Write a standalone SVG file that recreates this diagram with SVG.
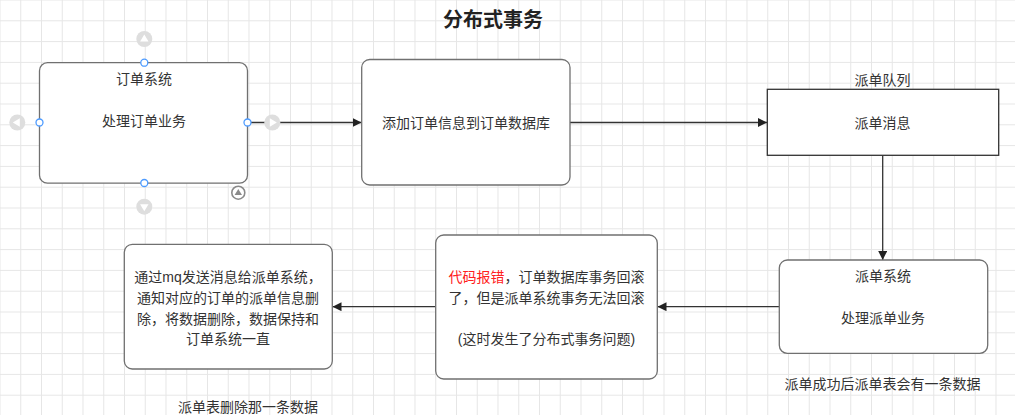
<svg xmlns="http://www.w3.org/2000/svg" width="1015" height="415" viewBox="0 0 1015 415">
<style>
.t{font-family:"Liberation Sans","Noto Sans CJK SC",sans-serif;font-size:14px;fill:#333;text-anchor:middle;dominant-baseline:central}
.box{fill:#fff;stroke:#707070;stroke-width:1.3}
.sq{fill:#fff;stroke:#333;stroke-width:1.3}
.edge{fill:none;stroke:#333;stroke-width:1.3}
.hdl{fill:#fff;stroke:#4d9bff;stroke-width:1.3}
.gc{fill:#dedede}
.gt{fill:#fff}
</style>
<defs>
<pattern id="grid" patternUnits="userSpaceOnUse" x="-0.5" y="-0.5" width="20.75" height="20.8">
<rect x="0" y="0" width="1" height="20.8" fill="#e6e6e6"/>
<rect x="0" y="0" width="20.75" height="1" fill="#e6e6e6"/>
</pattern>
<marker id="arr" viewBox="0 0 10 10" refX="10" refY="5" markerWidth="9" markerHeight="9" markerUnits="userSpaceOnUse" orient="auto">
<path d="M0,0 L10,5 L0,10 Z" fill="#222"/>
</marker>
</defs>
<rect width="1015" height="415" fill="#fff"/>
<rect width="1015" height="415" fill="url(#grid)"/>

<text x="493" y="20" class="t" style="font-size:20px;font-weight:bold;fill:#222">分布式事务</text>

<g id="connectors">
<path class="edge" d="M248,122.5 H361.5" marker-end="url(#arr)"/>
<path class="edge" d="M570,122.5 H767" marker-end="url(#arr)"/>
<path class="edge" d="M882.7,155.5 V260" marker-end="url(#arr)"/>
<path class="edge" d="M779.3,306.7 H657.5" marker-end="url(#arr)"/>
<path class="edge" d="M435.7,306.7 H332.5" marker-end="url(#arr)"/>
</g>

<g id="order-system">
<rect class="box" x="39.5" y="62.7" width="208" height="120.5" rx="8"/>
<text class="t" x="144" y="79">订单系统</text>
<text class="t" x="144" y="120.5">处理订单业务</text>
</g>

<g id="add-order-db">
<rect class="box" x="361.7" y="59.5" width="208.3" height="125.5" rx="8"/>
<text class="t" x="466" y="123">添加订单信息到订单数据库</text>
</g>

<g id="dispatch-queue">
<rect class="sq" x="767.3" y="89.3" width="231.4" height="66"/>
<text class="t" x="882.5" y="80">派单队列</text>
<text class="t" x="882.5" y="123">派单消息</text>
</g>

<g id="dispatch-system">
<rect class="box" x="779.3" y="260" width="208.4" height="93.3" rx="8"/>
<text class="t" x="883" y="276">派单系统</text>
<text class="t" x="883" y="318">处理派单业务</text>
<text class="t" x="882.5" y="384">派单成功后派单表会有一条数据</text>
</g>

<g id="rollback">
<rect class="box" x="435.7" y="235" width="221.6" height="144" rx="8"/>
<text class="t" x="546.5" y="277"><tspan fill="#ff2020">代码报错</tspan>，订单数据库事务回滚</text>
<text class="t" x="546.5" y="298">了，但是派单系统事务无法回滚</text>
<text class="t" x="546.5" y="339">(这时发生了分布式事务问题)</text>
</g>

<g id="mq-compensate">
<rect class="box" x="124.3" y="244.3" width="208" height="124.7" rx="8"/>
<text class="t" x="228" y="277">通过mq发送消息给派单系统，</text>
<text class="t" x="228" y="298">通知对应的订单的派单信息删</text>
<text class="t" x="228" y="318.5">除，将数据删除，数据保持和</text>
<text class="t" x="228" y="338.7">订单系统一直</text>
<text class="t" x="248" y="406.5">派单表删除那一条数据</text>
</g>

<g id="selection-handles">
<circle class="gc" cx="144.3" cy="39" r="8"/>
<path class="gt" d="M144.3,34.5 L148.5,41.5 L140.1,41.5 Z"/>
<circle class="gc" cx="17.3" cy="122.5" r="8"/>
<path class="gt" d="M12.8,122.5 L19.8,118.3 L19.8,126.7 Z"/>
<circle class="gc" cx="272.3" cy="122.5" r="8"/>
<path class="gt" d="M276.8,122.5 L269.8,118.3 L269.8,126.7 Z"/>
<circle class="gc" cx="144.3" cy="206.7" r="8"/>
<path class="gt" d="M144.3,211.2 L148.5,204.2 L140.1,204.2 Z"/>
<circle cx="238.3" cy="192.7" r="6.5" fill="#fff" stroke="#8a8a8a" stroke-width="1.6"/>
<path d="M238.3,189 L242,195 L234.6,195 Z" fill="#8a8a8a"/>
<circle class="hdl" cx="144.3" cy="62.7" r="3.5"/>
<circle class="hdl" cx="39.5" cy="122.5" r="3.5"/>
<circle class="hdl" cx="247.5" cy="122.5" r="3.5"/>
<circle class="hdl" cx="144.3" cy="183" r="3.5"/>
</g>
</svg>
